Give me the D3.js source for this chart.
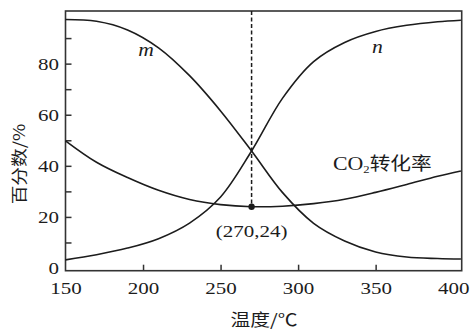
<!DOCTYPE html>
<html><head><meta charset="utf-8">
<script src="https://cdn.jsdelivr.net/npm/d3@7"></script>
<style>html,body{margin:0;padding:0;background:#fff;} svg{display:block;}</style>
</head><body>
<svg id="chart" width="473" height="332"></svg>
<script>
// ---- data ----
const temperatures = [150, 170, 190, 210, 230, 250, 270, 290, 310, 330, 350, 370, 390, 405];
const seriesM   = [97.3, 96.6, 93.2, 86.2, 75.3, 61.5, 45.8, 29.5, 17.5, 10.6, 6.3, 4.3, 3.7, 3.5];
const seriesN   = [3.2, 5.2, 7.8, 11.5, 17.6, 27.8, 45.8, 66.5, 80.8, 88.3, 92.6, 95.0, 96.4, 97.0];
const seriesCO2 = [49.8, 41.4, 35.4, 30.4, 26.8, 24.8, 24.0, 24.2, 25.2, 26.9, 29.6, 32.7, 35.9, 38.0];
const markerX = 270, markerY = 24;
const markerLabel = "(270,24)";
const xTickLabels = [150, 200, 250, 300, 350, 400];
const xTickMarks = [200, 250, 300, 350];
const yTickLabels = [0, 20, 40, 60, 80];
const yTickMarks = [10, 20, 30, 40, 50, 60, 70, 80, 90];
const xTitle = "温度/℃";
const yTitle = "百分数/%";
const labelM = "m", labelN = "n";

(function () {
// ---- layout ----
const svg = d3.select("#chart");
const pL = 65.5, pR = 461.7, pT = 11, pB = 270.7;
const x = d3.scaleLinear().domain([150, 405.5]).range([pL, pR]);
const y = d3.scaleLinear().domain([-1.05, 100.6]).range([pB, pT]);
const ink = "#1c1c1c";
const serif = "'Liberation Serif','Times New Roman',serif";
const cjk = "'Noto Sans CJK SC','Noto Sans',sans-serif";
const SX = 1.2;

svg.append("rect").attr("width", 473).attr("height", 332).attr("fill", "#fff");

// frame
svg.append("rect").attr("x", pL).attr("y", pT)
  .attr("width", pR - pL).attr("height", pB - pT)
  .attr("fill", "none").attr("stroke", "#333").attr("stroke-width", 1.6);

// tick marks (inward)
const gxm = svg.append("g").attr("transform", `translate(0,${pB})`)
  .call(d3.axisBottom(x).tickValues(xTickMarks).tickSize(-6).tickFormat(""));
const gym = svg.append("g").attr("transform", `translate(${pL},0)`)
  .call(d3.axisLeft(y).tickValues(yTickMarks).tickSize(-6).tickFormat(""));
[gxm, gym].forEach(g => {
  g.select(".domain").remove();
  g.selectAll("line").attr("stroke", "#333").attr("stroke-width", 1.5);
});

// tick labels
const gxl = svg.append("g").attr("transform", `translate(0,${pB})`)
  .call(d3.axisBottom(x).tickValues(xTickLabels).tickSize(0).tickFormat(d3.format("d")));
gxl.select(".domain").remove();
gxl.selectAll("text").attr("y", 23.3).attr("dy", 0).attr("x", 0)
  .attr("transform", `scale(${SX},1)`)
  .attr("font-family", serif).attr("font-size", 17.5).attr("fill", ink);

const gyl = svg.append("g").attr("transform", `translate(${pL},0)`)
  .call(d3.axisLeft(y).tickValues(yTickLabels).tickSize(0).tickFormat(d3.format("d")));
gyl.select(".domain").remove();
gyl.selectAll("text").attr("x", -6.5 / SX).attr("dy", "0.34em")
  .attr("transform", `scale(${SX},1)`)
  .attr("font-family", serif).attr("font-size", 17.5).attr("fill", ink);

// curves
const line = d3.line().x((d, i) => x(temperatures[i])).y(d => y(d)).curve(d3.curveCatmullRom.alpha(0.5));
[seriesM, seriesN, seriesCO2].forEach(s => {
  svg.append("path").datum(s).attr("d", line)
    .attr("fill", "none").attr("stroke", ink).attr("stroke-width", 1.6);
});

// dashed guide + marker
svg.append("line").attr("x1", x(markerX)).attr("x2", x(markerX))
  .attr("y1", pT).attr("y2", y(markerY))
  .attr("stroke", ink).attr("stroke-width", 1.5).attr("stroke-dasharray", "4,2.5");
svg.append("circle").attr("cx", x(markerX)).attr("cy", y(markerY)).attr("r", 3.2).attr("fill", ink);

function stretched(px, py, str, family, size, sx, opts = {}) {
  const t = svg.append("text")
    .attr("transform", `translate(${px},${py})${opts.rotate ? ` rotate(${opts.rotate})` : ""} scale(${sx},1)`)
    .attr("text-anchor", opts.anchor || "middle")
    .attr("font-family", family).attr("font-size", size).attr("fill", ink);
  if (opts.italic) t.attr("font-style", "italic");
  t.text(str);
  return t;
}

stretched(x(markerX), 236.5, markerLabel, serif, 17.5, SX);
stretched(146, 56, labelM, serif, 18, SX, {italic: true});
stretched(377.5, 53.3, labelN, serif, 18, SX, {italic: true});

// CO2 label
const co2 = svg.append("text").attr("transform", `translate(333,170) scale(1.15,1)`)
  .attr("fill", ink).attr("font-size", 18);
co2.append("tspan").attr("font-family", serif).attr("font-size", 19).text("CO");
co2.append("tspan").attr("font-family", serif).attr("font-size", 11).attr("dy", 3).text("2");
co2.append("tspan").attr("font-family", cjk).attr("dy", -3).text("转化率");

// axis titles
stretched(264, 326, xTitle, cjk, 16.5, 1.2);
stretched(25, 164, yTitle, cjk, 16, 1.17, {rotate: -90});
})();
</script>
</body></html>
